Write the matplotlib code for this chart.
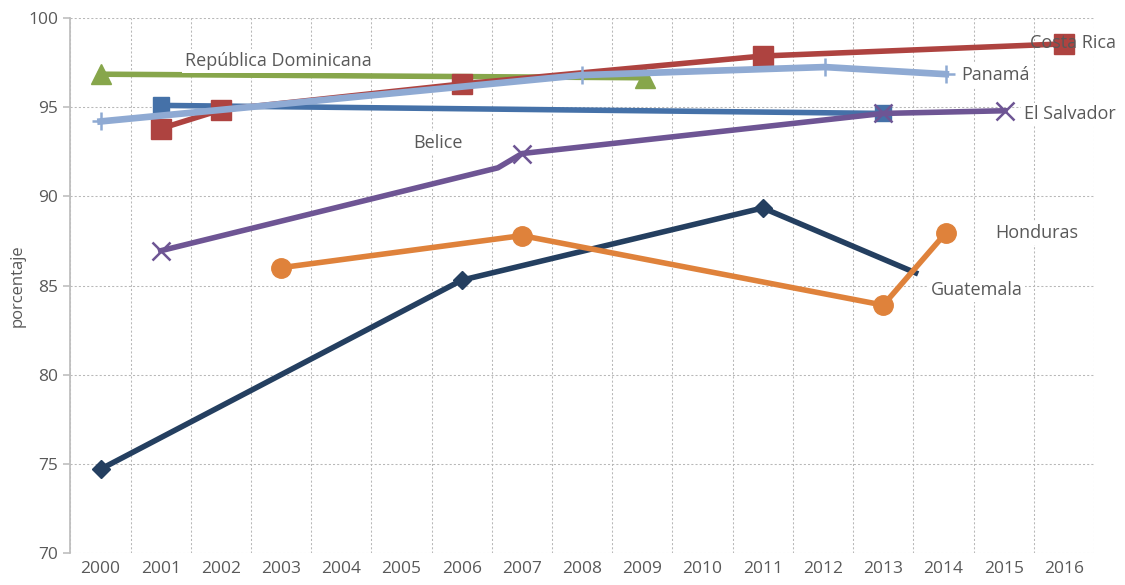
import numpy as np
import matplotlib.pyplot as plt
from matplotlib.ticker import FixedLocator

plt.rcParams['font.family'] = ['Open Sans', 'DejaVu Sans']

years = list(range(2000, 2017))

# porcentaje por país (x en años, algunos puntos caen entre años)
guatemala_x = [2000, 2006, 2011, 2013.58]
guatemala_y = [74.7, 85.3, 89.35, 85.65]

honduras_x = [2003, 2007, 2013, 2014.04]
honduras_y = [86.0, 87.8, 83.9, 87.95]

belice_x = [2001, 2013]
belice_y = [95.1, 94.65]

rep_dom_x = [2000, 2009.04]
rep_dom_y = [96.85, 96.65]

costa_rica_x = [2001, 2002, 2006, 2011, 2016]
costa_rica_y = [93.8, 94.85, 96.3, 97.87, 98.55]

panama_x = [2000, 2008, 2012.03, 2014.04]
panama_y = [94.2, 96.8, 97.25, 96.85]

el_salvador_x = [2001, 2006.6, 2007, 2013, 2015.02]
el_salvador_y = [86.95, 91.6, 92.4, 94.65, 94.8]

fig = plt.figure(figsize=(11.25, 5.85), dpi=100)
ax = fig.add_axes([0.0626, 0.0547, 0.9098, 0.9145])

LW = 4.0
ax.plot(guatemala_x, guatemala_y, color='#243F60', lw=LW, marker='D', ms=9,
        markevery=[0, 1, 2], solid_capstyle='butt', zorder=3)
ax.plot(honduras_x, honduras_y, color='#DF823B', lw=LW, marker='o', ms=14, zorder=4)
ax.plot(belice_x, belice_y, color='#4571A8', lw=LW, marker='s', ms=11, zorder=5)
ax.plot(rep_dom_x, rep_dom_y, color='#87A64B', lw=LW, marker='^', ms=14, zorder=5)
ax.plot(costa_rica_x, costa_rica_y, color='#AE4340', lw=LW, marker='s', ms=14, zorder=6)
ax.plot(panama_x, panama_y, color='#8FAAD3', lw=LW + 0.8, marker='+', ms=13,
        mew=1.8, zorder=7)
ax.plot(el_salvador_x, el_salvador_y, color='#6E5594', lw=LW, marker='x', ms=13,
        mew=1.8, markevery=[0, 2, 3, 4], zorder=8)

# etiquetas de las series
lab = dict(fontsize=13, color='#595959', zorder=9)
box = dict(facecolor='white', edgecolor='none', pad=2)
ax.text(2002.95, 97.6, 'República Dominicana', ha='center', va='center', bbox=box, **lab)
ax.text(2005.6, 93.0, 'Belice', ha='center', va='center', bbox=box, **lab)
ax.text(2016.15, 98.6, 'Costa Rica', ha='center', va='center', **lab)
ax.text(2014.87, 96.8, 'Panamá', ha='center', va='center', bbox=box, **lab)
ax.text(2016.1, 94.6, 'El Salvador', ha='center', va='center', bbox=box, **lab)
ax.text(2015.55, 87.95, 'Honduras', ha='center', va='center', bbox=box, **lab)
ax.text(2014.55, 84.75, 'Guatemala', ha='center', va='center', bbox=box, **lab)

ax.set_xlim(1999.5, 2016.5)
ax.set_ylim(70, 100)
ax.set_xticks(years)
ax.set_xticklabels([str(y) for y in years])
ax.xaxis.set_minor_locator(FixedLocator(np.arange(1999.5, 2017, 1)))
ax.set_yticks(range(70, 101, 5))

ax.grid(True, which='minor', axis='x', color='#B8B8B8', ls=(0, (2, 2)), lw=0.75)
ax.grid(True, which='major', axis='y', color='#B8B8B8', ls=(0, (2, 2)), lw=0.75)
ax.set_axisbelow(True)

for s in ['top', 'right', 'bottom']:
    ax.spines[s].set_visible(False)
ax.spines['left'].set_color('#BFBFBF')
ax.spines['left'].set_linewidth(1.3)

ax.tick_params(axis='x', which='both', length=0, labelsize=12.5, labelcolor='#595959', pad=6)
ax.tick_params(axis='y', length=5, width=1.2, color='#BFBFBF', labelsize=12.5,
               labelcolor='#595959', pad=4)

ax.set_ylabel('porcentaje', fontsize=12, color='#595959', labelpad=2)

fig.savefig('out.png', dpi=100, facecolor='white')
